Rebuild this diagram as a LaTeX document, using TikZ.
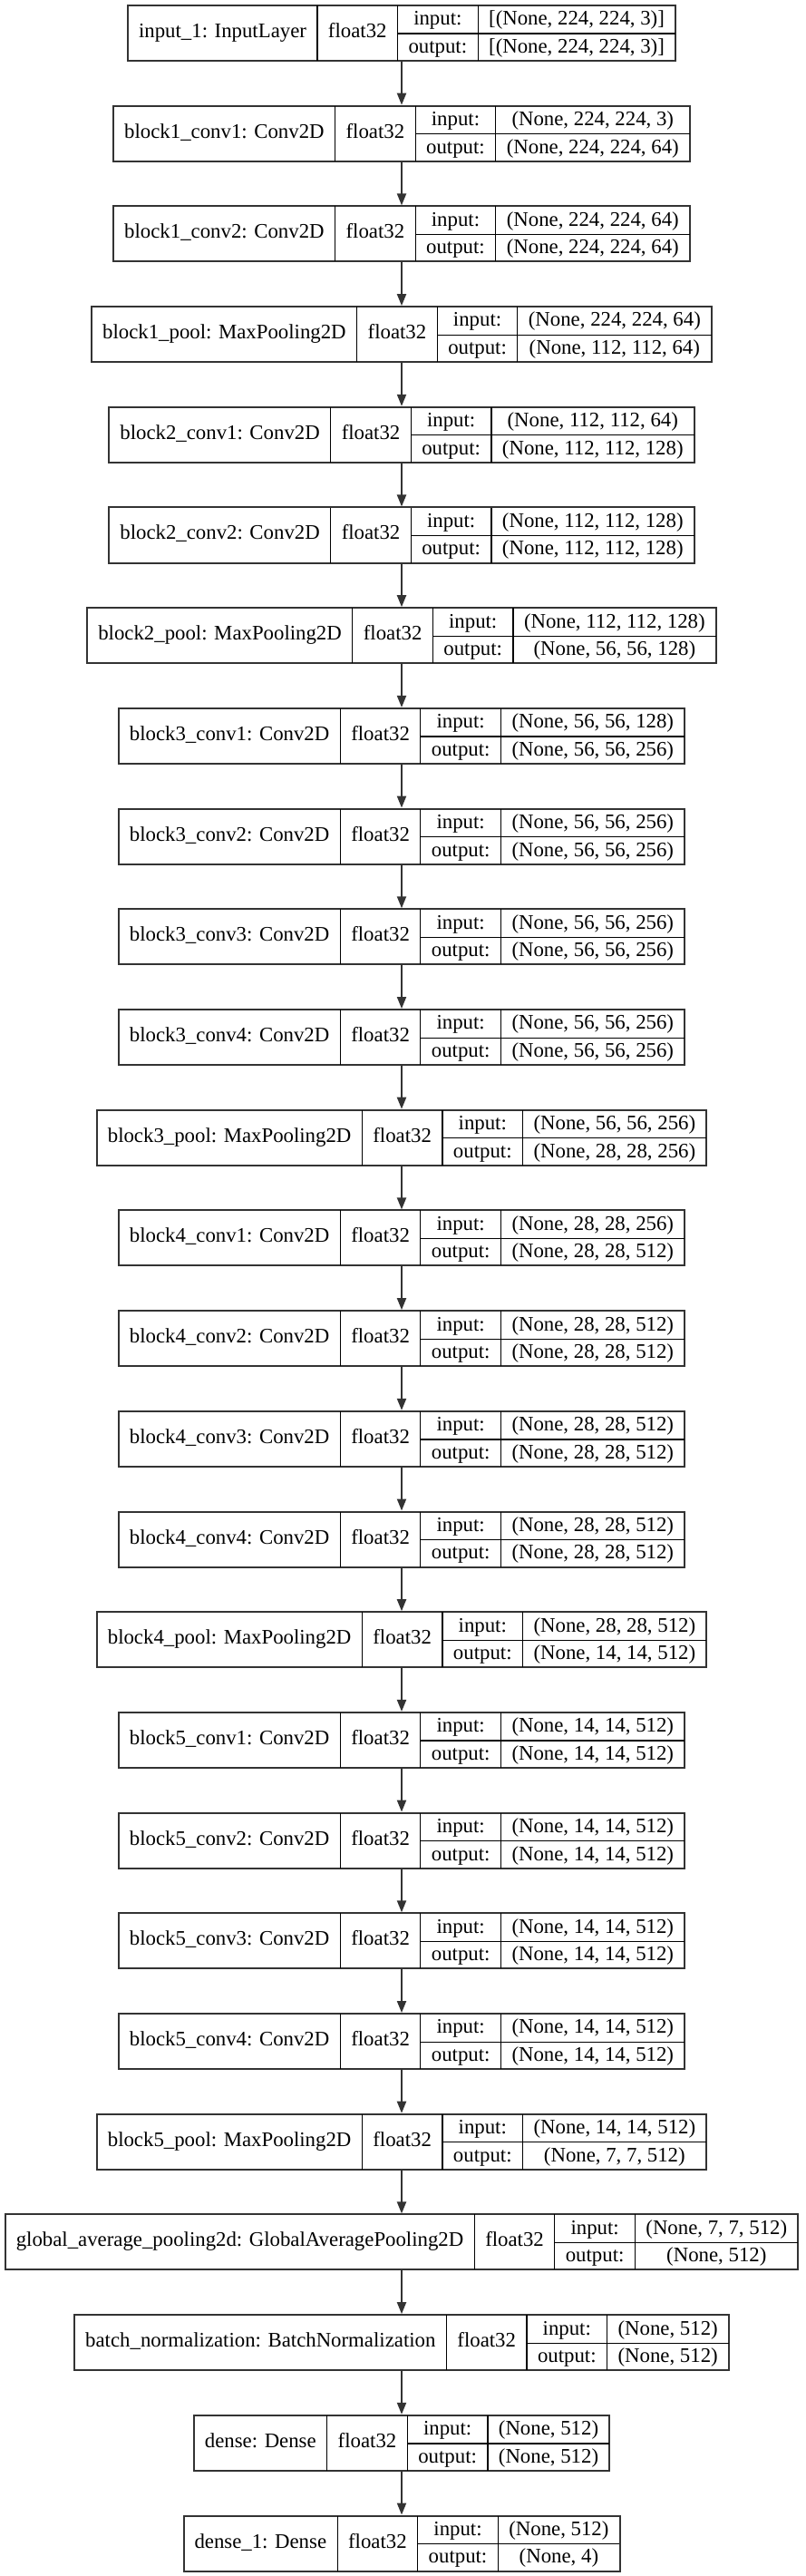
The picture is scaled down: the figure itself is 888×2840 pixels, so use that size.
\documentclass[tikz,border=0pt]{standalone}
\usepackage{fontspec}
\setmainfont{Liberation Serif}
\usepackage{multirow}
\usetikzlibrary{arrows.meta}

\setlength{\tabcolsep}{6pt}
\setlength{\arrayrulewidth}{0.6pt}
\newcommand{\rowstrut}{\rule[-4.3pt]{0pt}{15.25pt}}
\newcommand{\layer}[3]{%
  \begin{tabular}{c|c|c|c}
    \multirow{2}{*}{#1} & \multirow{2}{*}{float32} & \rowstrut input: & #2\\ \cline{3-4}
    & & \rowstrut output: & #3
  \end{tabular}}

\begin{document}
\begin{tikzpicture}[x=0.5pt,y=-0.5pt,
    layer/.style={draw=black!80,line width=1pt,inner sep=0pt,
      font=\fontsize{11.4pt}{13.6pt}\selectfont},
    >={Triangle[length=6.5pt,width=5pt]}]
            \useasboundingbox (0,0) rectangle (888,2840);

            \node[layer] (input 1) at (443,36.5) {\layer{input\_1: InputLayer}{[(None, 224, 224, 3)]}{[(None, 224, 224, 3)]}};
            \node[layer] (block1 conv1) at (443,147.2) {\layer{block1\_conv1: Conv2D}{(None, 224, 224, 3)}{(None, 224, 224, 64)}};
            \node[layer] (block1 conv2) at (443,257.9) {\layer{block1\_conv2: Conv2D}{(None, 224, 224, 64)}{(None, 224, 224, 64)}};
            \node[layer] (block1 pool) at (443,368.6) {\layer{block1\_pool: MaxPooling2D}{(None, 224, 224, 64)}{(None, 112, 112, 64)}};

            \node[layer] (block2 conv1) at (443,479.3) {\layer{block2\_conv1: Conv2D}{(None, 112, 112, 64)}{(None, 112, 112, 128)}};
            \node[layer] (block2 conv2) at (443,590.0) {\layer{block2\_conv2: Conv2D}{(None, 112, 112, 128)}{(None, 112, 112, 128)}};
            \node[layer] (block2 pool) at (443,700.7) {\layer{block2\_pool: MaxPooling2D}{(None, 112, 112, 128)}{(None, 56, 56, 128)}};

            \node[layer] (block3 conv1) at (443,811.4) {\layer{block3\_conv1: Conv2D}{(None, 56, 56, 128)}{(None, 56, 56, 256)}};
            \node[layer] (block3 conv2) at (443,922.1) {\layer{block3\_conv2: Conv2D}{(None, 56, 56, 256)}{(None, 56, 56, 256)}};
            \node[layer] (block3 conv3) at (443,1032.8) {\layer{block3\_conv3: Conv2D}{(None, 56, 56, 256)}{(None, 56, 56, 256)}};
            \node[layer] (block3 conv4) at (443,1143.5) {\layer{block3\_conv4: Conv2D}{(None, 56, 56, 256)}{(None, 56, 56, 256)}};
            \node[layer] (block3 pool) at (443,1254.2) {\layer{block3\_pool: MaxPooling2D}{(None, 56, 56, 256)}{(None, 28, 28, 256)}};

            \node[layer] (block4 conv1) at (443,1364.9) {\layer{block4\_conv1: Conv2D}{(None, 28, 28, 256)}{(None, 28, 28, 512)}};
            \node[layer] (block4 conv2) at (443,1475.6) {\layer{block4\_conv2: Conv2D}{(None, 28, 28, 512)}{(None, 28, 28, 512)}};
            \node[layer] (block4 conv3) at (443,1586.3) {\layer{block4\_conv3: Conv2D}{(None, 28, 28, 512)}{(None, 28, 28, 512)}};
            \node[layer] (block4 conv4) at (443,1697.0) {\layer{block4\_conv4: Conv2D}{(None, 28, 28, 512)}{(None, 28, 28, 512)}};
            \node[layer] (block4 pool) at (443,1807.7) {\layer{block4\_pool: MaxPooling2D}{(None, 28, 28, 512)}{(None, 14, 14, 512)}};

            \node[layer] (block5 conv1) at (443,1918.4) {\layer{block5\_conv1: Conv2D}{(None, 14, 14, 512)}{(None, 14, 14, 512)}};
            \node[layer] (block5 conv2) at (443,2029.1) {\layer{block5\_conv2: Conv2D}{(None, 14, 14, 512)}{(None, 14, 14, 512)}};
            \node[layer] (block5 conv3) at (443,2139.8) {\layer{block5\_conv3: Conv2D}{(None, 14, 14, 512)}{(None, 14, 14, 512)}};
            \node[layer] (block5 conv4) at (443,2250.5) {\layer{block5\_conv4: Conv2D}{(None, 14, 14, 512)}{(None, 14, 14, 512)}};
            \node[layer] (block5 pool) at (443,2361.2) {\layer{block5\_pool: MaxPooling2D}{(None, 14, 14, 512)}{(None, 7, 7, 512)}};

            \node[layer] (Global Pool) at (443,2471.9) {\layer{global\_average\_pooling2d: GlobalAveragePooling2D}{(None, 7, 7, 512)}{(None, 512)}};
            \node[layer] (Batch Norm) at (443,2582.6) {\layer{batch\_normalization: BatchNormalization}{(None, 512)}{(None, 512)}};
            \node[layer] (Dense) at (443,2693.3) {\layer{dense: Dense}{(None, 512)}{(None, 512)}};
            \node[layer] (Dense 1) at (443,2804.0) {\layer{dense\_1: Dense}{(None, 512)}{(None, 4)}};

            \draw[->,draw=black!80,line width=1pt] (input 1) to (block1 conv1);
            \draw[->,draw=black!80,line width=1pt] (block1 conv1) to (block1 conv2);
            \draw[->,draw=black!80,line width=1pt] (block1 conv2) to (block1 pool);
            \draw[->,draw=black!80,line width=1pt] (block1 pool) to (block2 conv1);
            \draw[->,draw=black!80,line width=1pt] (block2 conv1) to (block2 conv2);
            \draw[->,draw=black!80,line width=1pt] (block2 conv2) to (block2 pool);
            \draw[->,draw=black!80,line width=1pt] (block2 pool) to (block3 conv1);
            \draw[->,draw=black!80,line width=1pt] (block3 conv1) to (block3 conv2);
            \draw[->,draw=black!80,line width=1pt] (block3 conv2) to (block3 conv3);
            \draw[->,draw=black!80,line width=1pt] (block3 conv3) to (block3 conv4);
            \draw[->,draw=black!80,line width=1pt] (block3 conv4) to (block3 pool);
            \draw[->,draw=black!80,line width=1pt] (block3 pool) to (block4 conv1);
            \draw[->,draw=black!80,line width=1pt] (block4 conv1) to (block4 conv2);
            \draw[->,draw=black!80,line width=1pt] (block4 conv2) to (block4 conv3);
            \draw[->,draw=black!80,line width=1pt] (block4 conv3) to (block4 conv4);
            \draw[->,draw=black!80,line width=1pt] (block4 conv4) to (block4 pool);
            \draw[->,draw=black!80,line width=1pt] (block4 pool) to (block5 conv1);
            \draw[->,draw=black!80,line width=1pt] (block5 conv1) to (block5 conv2);
            \draw[->,draw=black!80,line width=1pt] (block5 conv2) to (block5 conv3);
            \draw[->,draw=black!80,line width=1pt] (block5 conv3) to (block5 conv4);
            \draw[->,draw=black!80,line width=1pt] (block5 conv4) to (block5 pool);
            \draw[->,draw=black!80,line width=1pt] (block5 pool) to (Global Pool);
            \draw[->,draw=black!80,line width=1pt] (Global Pool) to (Batch Norm);
            \draw[->,draw=black!80,line width=1pt] (Batch Norm) to (Dense);
            \draw[->,draw=black!80,line width=1pt] (Dense) to (Dense 1);
        \end{tikzpicture}
\end{document}
